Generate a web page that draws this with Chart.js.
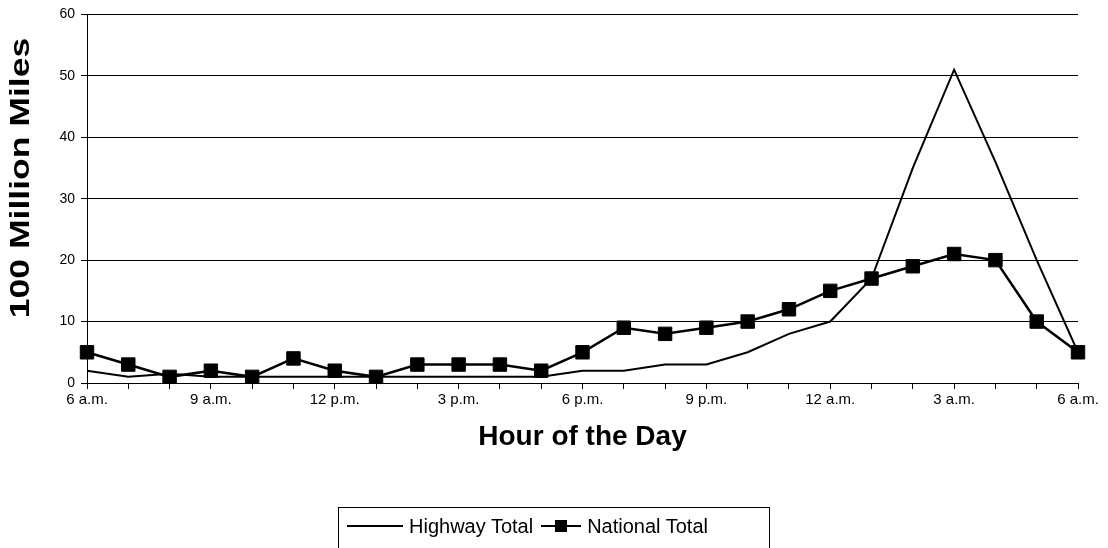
<!DOCTYPE html>
<html>
<head>
<meta charset="utf-8">
<script src="https://cdn.jsdelivr.net/npm/chart.js@4"></script>
<style>
  html, body { margin: 0; padding: 0; background: #fff; }
  #wrap { position: relative; width: 1108px; height: 548px; overflow: hidden; }
  #legend {
    position: absolute; left: 338px; top: 507px; width: 432px; height: 60px;
    border: 1px solid #000; box-sizing: border-box;
    font-family: "Liberation Sans", Arial, sans-serif; font-size: 20px; color: #000;
    display: flex; align-items: flex-start; padding: 6px 0 0 8px; white-space: nowrap;
  }
  .item { display: flex; align-items: center; margin-right: 8px; }
  .sw { position: relative; width: 56px; height: 24px; margin-right: 6px; }
  .sw .ln { position: absolute; left: 0; right: 0; top: 11px; height: 2px; background: #000; }
  .sw .mk { position: absolute; left: 22px; top: 6px; width: 12px; height: 12px; background: #000; }
</style>
</head>
<body>
<div id="wrap">
  <canvas id="chart" width="1108" height="548"></canvas>
  <div id="legend">
    <div class="item"><div class="sw"><div class="ln"></div></div>Highway Total</div>
    <div class="item"><div class="sw" style="width:40px"><div class="ln"></div><div class="mk" style="left:14px"></div></div>National Total</div>
  </div>
</div>
<script>
// hourly points from 6 a.m. to 6 a.m. the next day
const hours = ['6 a.m.', '7 a.m.', '8 a.m.', '9 a.m.', '10 a.m.', '11 a.m.', '12 p.m.', '1 p.m.', '2 p.m.',
  '3 p.m.', '4 p.m.', '5 p.m.', '6 p.m.', '7 p.m.', '8 p.m.', '9 p.m.', '10 p.m.', '11 p.m.', '12 a.m.',
  '1 a.m.', '2 a.m.', '3 a.m.', '4 a.m.', '5 a.m.', '6 a.m.'];
const highwayTotal = [2, 1, 1.5, 1, 1, 1, 1, 1, 1, 1, 1, 1, 2, 2, 3, 3, 5, 8, 10, 17, 35, 51, 36, 20, 5];
const nationalTotal = [5, 3, 1, 2, 1, 4, 2, 1, 3, 3, 3, 2, 5, 9, 8, 9, 10, 12, 15, 17, 19, 21, 20, 10, 5];
const yTicks = [0, 10, 20, 30, 40, 50, 60];

const FONT = '"Liberation Sans", Arial, sans-serif';

// y title drawn by hand: sits above the middle and is a bit stretched like the original
const yTitlePlugin = {
    id: 'yTitle',
    afterDraw(chart) {
        const c = chart.ctx;
        c.save();
        c.translate(21, 178);
        c.rotate(-Math.PI / 2);
        c.scale(1.27, 1);
        c.font = 'bold 28px ' + FONT;
        c.fillStyle = '#000';
        c.textAlign = 'center';
        c.textBaseline = 'middle';
        c.fillText('100 Million Miles', 0, 0);
        c.restore();
    }
};

const ctx = document.getElementById('chart');
new Chart(ctx, {
    type: 'line',
    data: {
        labels: hours,
        datasets: [{
            label: 'Highway Total',
            data: highwayTotal,
            borderColor: '#000',
            borderWidth: 2,
            pointRadius: 0,
            tension: 0
        }, {
            label: 'National Total',
            data: nationalTotal,
            borderColor: '#000',
            borderWidth: 2.5,
            pointStyle: 'rect',
            pointRadius: 9.5,
            pointBackgroundColor: '#000',
            pointBorderColor: '#000',
            pointBorderWidth: 1,
            tension: 0
        }]
    },
    plugins: [yTitlePlugin],
    options: {
        responsive: false,
        animation: false,
        layout: { padding: { left: 0, right: 30, top: 12, bottom: 94 } },
        plugins: {
            legend: { display: false },
            tooltip: { enabled: false }
        },
        scales: {
            x: {
                offset: false,
                border: { color: '#000', width: 1 },
                grid: { drawOnChartArea: false, drawTicks: true, tickLength: 6, color: '#000' },
                ticks: {
                    autoSkip: false,
                    maxRotation: 0,
                    padding: 2,
                    color: '#000',
                    font: { family: FONT, size: 15 },
                    callback: (v, i) => i % 3 === 0 ? hours[i] : ''
                },
                title: {
                    display: true,
                    text: 'Hour of the Day',
                    color: '#000',
                    font: { family: FONT, size: 28, weight: 'bold' },
                    padding: { top: 0, bottom: 0 }
                },
                afterFit: s => { s.height = 71; }
            },
            y: {
                min: 0,
                max: 60,
                border: { color: '#000', width: 1 },
                grid: { color: '#000', lineWidth: 1, tickLength: 6 },
                afterBuildTicks: s => { s.ticks = yTicks.map(v => ({ value: v })); },
                ticks: {
                    padding: 6,
                    color: '#000',
                    font: { family: FONT, size: 14 }
                },
                afterFit: s => { s.width = 87; }
            }
        }
    }
});
</script>
</body>
</html>
